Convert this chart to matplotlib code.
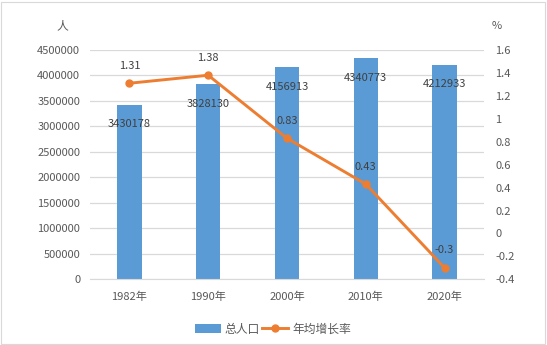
import matplotlib
matplotlib.use("Agg")
import matplotlib.pyplot as plt
from matplotlib.patches import Rectangle
from matplotlib.lines import Line2D
from matplotlib.patches import Patch

plt.rcParams['font.family'] = ['Noto Sans CJK SC', 'DejaVu Sans']

categories = ["1982年", "1990年", "2000年", "2010年", "2020年"]
population = [3430178, 3828130, 4156913, 4340773, 4212933]
growth = [1.31, 1.38, 0.83, 0.43, -0.3]
left_ticks = list(range(0, 4500001, 500000))
right_ticks = [-0.4, -0.2, 0, 0.2, 0.4, 0.6, 0.8, 1, 1.2, 1.4, 1.6]
right_labels = ["-0.4", "-0.2", "0", "0.2", "0.4", "0.6", "0.8", "1", "1.2", "1.4", "1.6"]

W, H = 547, 345
fig = plt.figure(figsize=(W / 100, H / 100), dpi=100)
txt = "#595959"
blue = "#5B9BD5"
orange = "#ED7D31"
grid = "#D9D9D9"

ax = fig.add_axes([90 / W, 1 - 279.3 / H, (484 - 90) / W, (279.3 - 50) / H])
x = list(range(len(categories)))
ax.bar(x, population, width=0.31, color=blue, zorder=2)
ax.set_xlim(-0.5, len(categories) - 0.5)
ax.set_ylim(0, 4500000)
ax.set_yticks(left_ticks)
ax.set_yticklabels([str(v) for v in left_ticks])
ax.set_xticks(x)
ax.set_xticklabels(categories)
ax.yaxis.grid(True, color=grid, linewidth=0.9, zorder=0)
ax.set_axisbelow(True)
for s in ["top", "right", "left"]:
    ax.spines[s].set_visible(False)
ax.spines["bottom"].set_color(grid)
ax.tick_params(axis="both", length=0, colors=txt, labelsize=8)
ax.tick_params(axis="x", pad=9)
ax.tick_params(axis="y", pad=7)

for xi, v in zip(x, population):
    ax.annotate(str(v), (xi, v), xytext=(0, -14), textcoords="offset points",
                ha="center", va="center", fontsize=8, color="#404040", zorder=5)

ax2 = ax.twinx()
ax2.plot(x, growth, color=orange, linewidth=2.1, marker="o", markersize=5, zorder=3)
ax2.set_ylim(-0.4, 1.6)
ax2.set_yticks(right_ticks)
ax2.set_yticklabels(right_labels)
for s in ["top", "right", "left", "bottom"]:
    ax2.spines[s].set_visible(False)
ax2.tick_params(axis="y", length=0, colors=txt, labelsize=8, pad=8)

for xi, v in zip(x, growth):
    ax2.annotate(str(v), (xi, v), xytext=(0, 12.5), textcoords="offset points",
                 ha="center", va="center", fontsize=8, color="#404040", zorder=5)

fig.text(62 / W, 1 - 26 / H, "人", ha="center", va="center", fontsize=8.5, color=txt)
fig.text(497 / W, 1 - 26 / H, "%", ha="center", va="center", fontsize=8, color=txt)

handles = [Patch(facecolor=blue, edgecolor="none"),
           Line2D([0], [0], color=orange, linewidth=2.1, marker="o", markersize=5)]
fig.legend(handles, ["总人口", "年均增长率"], loc="center", bbox_to_anchor=(273 / W, 1 - 329 / H),
           ncol=2, frameon=False, fontsize=8.5, labelcolor=txt, handlelength=2.2,
           handletextpad=0.3, columnspacing=0.2, handleheight=0.9)

fig.patches.append(Rectangle((1 / W, 1 / H), (W - 3) / W, (H - 3) / H, transform=fig.transFigure,
                             fill=False, edgecolor="#D9D9D9", linewidth=0.8))

fig.savefig("out.png", dpi=100)
